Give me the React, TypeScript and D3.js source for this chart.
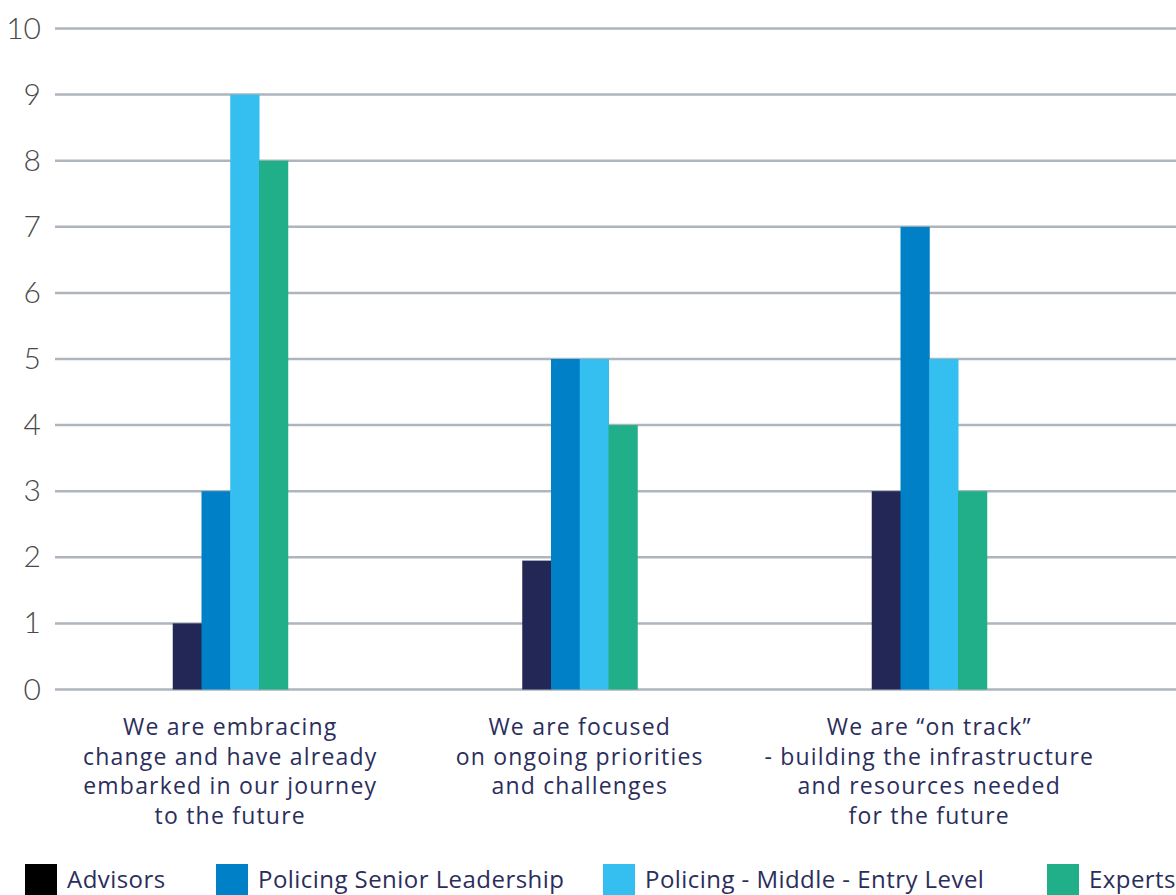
import React from "react";
import * as d3 from "d3";

const categories: string[][] = [
  ["We are embracing", "change and have already", "embarked in our journey", "to the future"],
  ["We are focused", "on ongoing priorities", "and challenges"],
  ["We are \u201con track\u201d", "- building the infrastructure", "and resources needed", "for the future"],
];
const seriesNames = ["Advisors", "Policing Senior Leadership", "Policing - Middle - Entry Level", "Experts"];
const advisors = [1, 1.95, 3];
const seniorLeadership = [3, 5, 7];
const middleEntry = [9, 5, 5];
const experts = [8, 4, 3];
const yTicks = [0, 1, 2, 3, 4, 5, 6, 7, 8, 9, 10];

const barColors = ["#222755", "#0080C6", "#35BFF0", "#21AF8A"];
const legendColors = ["#000000", "#0080C6", "#35BFF0", "#21AF8A"];

const W = 1176;
const H = 895;

export default function App() {
  const series = [advisors, seniorLeadership, middleEntry, experts];
  const x0 = d3.scaleBand<number>().domain(d3.range(categories.length)).range([55.5, 1104]).paddingInner(0).paddingOuter(0);
  const groupW = 115;
  const x1 = d3.scaleBand<number>().domain(d3.range(series.length)).range([0, groupW]);
  const y = d3.scaleLinear().domain([0, 10]).range([689.5, 28.5]);

  const tickFont = "Lato, 'Open Sans', sans-serif";
  const textFont = "'Open Sans', Lato, sans-serif";
  const legendX = [25, 216, 603, 1047];

  return (
    <svg width={W} height={H} style={{ position: "absolute", left: 0, top: 0, background: "#fff" }}>
      {yTicks.map((t) => (
        <g key={t}>
          <line x1={55} x2={W} y1={y(t)} y2={y(t)} stroke="#AEB5BC" strokeWidth={2.5} />
          <text x={41} y={y(t) + 10} textAnchor="end" fontSize={30} fontWeight={300} fill="#4a4a4a" fontFamily={tickFont}>
            {t}
          </text>
        </g>
      ))}
      {categories.map((_, ci) => {
        const gx = (x0(ci) as number) + x0.bandwidth() / 2 - groupW / 2;
        return series.map((s, si) => (
          <rect
            key={`${ci}-${si}`}
            x={gx + (x1(si) as number)}
            y={y(s[ci])}
            width={x1.bandwidth() + 0.5}
            height={y(0) - y(s[ci])}
            fill={barColors[si]}
          />
        ));
      })}
      {categories.map((lines, ci) => {
        const cx = (x0(ci) as number) + x0.bandwidth() / 2;
        return (
          <text key={ci} textAnchor="middle" fontSize={23} letterSpacing={1.2} fill="#2B2E5C" fontWeight={400} fontFamily={textFont}>
            {lines.map((l, li) => (
              <tspan key={li} x={cx} y={735 + li * 29.5}>
                {l}
              </tspan>
            ))}
          </text>
        );
      })}
      {seriesNames.map((n, i) => (
        <g key={n}>
          <rect x={legendX[i]} y={864} width={32} height={31} fill={legendColors[i]} />
          <text x={legendX[i] + 42} y={888} fontSize={24} letterSpacing={0.45} fill="#2B2E5C" fontFamily={textFont}>
            {n}
          </text>
        </g>
      ))}
    </svg>
  );
}
